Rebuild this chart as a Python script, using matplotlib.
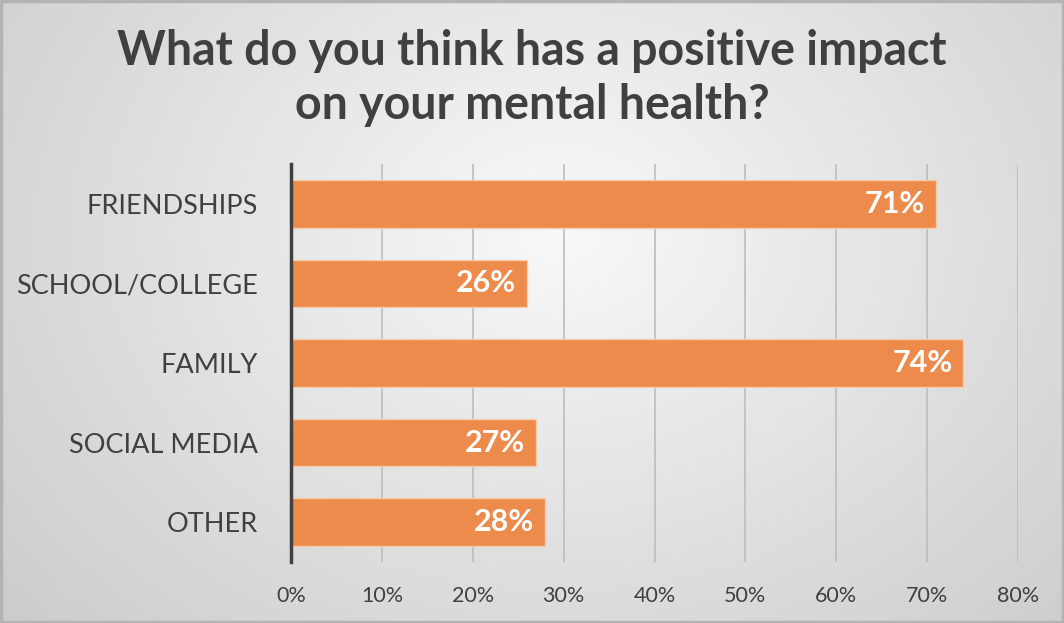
import numpy as np
import matplotlib
matplotlib.use('Agg')
import matplotlib.pyplot as plt

categories = ['FRIENDSHIPS', 'SCHOOL/COLLEGE', 'FAMILY', 'SOCIAL MEDIA', 'OTHER']
values = [71, 26, 74, 27, 28]
xticks = [0, 10, 20, 30, 40, 50, 60, 70, 80]
title = 'What do you think has a positive impact\non your mental health?'

plt.rcParams['font.family'] = ['Lato', 'DejaVu Sans']

fig = plt.figure(figsize=(10.64, 6.23), dpi=100)

# radial gradient background
bg = fig.add_axes([0, 0, 1, 1], zorder=-10)
h, w = 623, 1064
yy, xx = np.mgrid[0:h, 0:w]
r = np.sqrt(((xx - 560) / 760.0) ** 2 + ((yy - 230) / 600.0) ** 2)
r = np.clip(r, 0, 1)
grey = 0.975 - 0.18 * r
img = np.dstack([grey, grey, grey])
bg.imshow(img, aspect='auto', extent=[0, 1, 0, 1], origin='upper')
bg.set_xlim(0, 1)
bg.set_ylim(0, 1)
bg.axis('off')
# outer frame
bg.add_patch(plt.Rectangle((0.001, 0.002), 0.998, 0.996, fill=False,
                           edgecolor='#b3b3b3', linewidth=2.5,
                           transform=bg.transAxes))

ax = fig.add_axes([291 / w, 1 - 562 / h, (1018 - 291) / w, (562 - 164) / h])
ax.patch.set_alpha(0)

y = np.arange(len(categories))
bars = ax.barh(y, values, height=0.6, color='#ED8B4C', edgecolor='#F6CBAA',
               linewidth=1.0, zorder=3)

for yi, v in zip(y, values):
    ax.text(v - 1.2, yi, f'{v}%', ha='right', va='center', color='white',
            fontsize=22, fontweight='bold', zorder=4)

ax.set_xlim(0, 80)
ax.set_ylim(len(categories) - 0.5, -0.5)
ax.set_xticks(xticks)
ax.set_xticklabels([f'{t}%' for t in xticks], fontsize=15.5, color='#404040')
ax.set_yticks(y)
ax.set_yticklabels(categories, fontsize=19.5, color='#404040')
ax.tick_params(axis='both', length=0)
ax.tick_params(axis='x', pad=17)
ax.tick_params(axis='y', pad=24)

ax.grid(True, axis='x', color='#bdbdbd', linewidth=1.2, zorder=0)
for s in ['top', 'right', 'bottom']:
    ax.spines[s].set_visible(False)
ax.spines['left'].set_color('#404040')
ax.spines['left'].set_linewidth(2.5)
ax.spines['left'].set_zorder(5)

fig.text(0.5, 1 - 78 / h, title, ha='center', va='center', fontsize=33.5,
         fontweight='bold', color='#404040', linespacing=1.27)

fig.savefig('out.png', dpi=100)
